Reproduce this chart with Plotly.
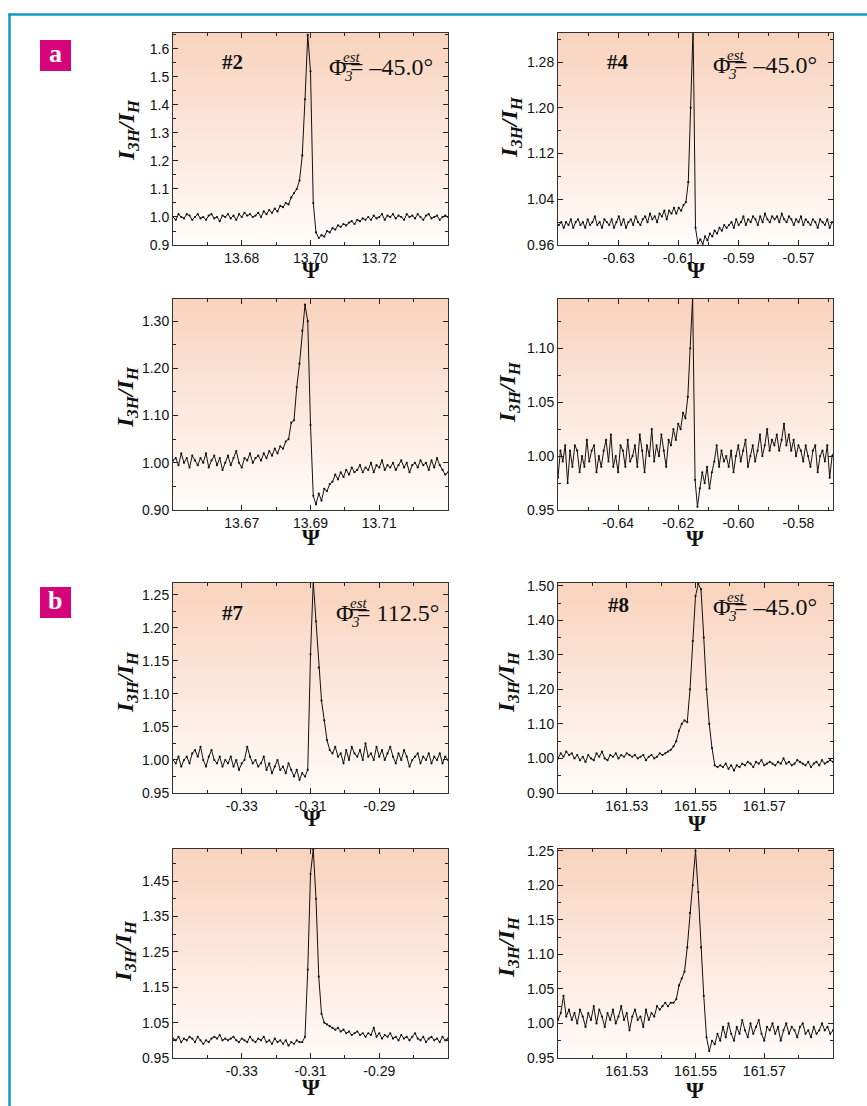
import plotly.graph_objects as go

W, H = 867, 1106

# ---------------- data ----------------
# each scan: start of Psi scan, scan step, measured I3H/IH ratios
scan2a_start, scan2a_step = 13.66, 0.0008
scan2a_ratio = [
    1.00, 0.99, 1.01, 1.00, 0.995, 1.01, 1.005, 0.99, 1.00, 1.01,
    0.995, 1.00, 0.99, 1.005, 1.01, 0.995, 1.00, 0.985, 1.005, 1.00,
    1.01, 0.995, 1.005, 0.99, 1.01, 1.00, 1.015, 1.005, 1.01, 1.00,
    1.005, 1.015, 1.00, 1.02, 1.01, 1.025, 1.015, 1.03, 1.02, 1.04,
    1.035, 1.05, 1.045, 1.07, 1.085, 1.10, 1.13, 1.22, 1.42, 1.65,
    1.52, 1.05, 0.945, 0.925, 0.935, 0.93, 0.95, 0.945, 0.96, 0.955,
    0.97, 0.965, 0.975, 0.97, 0.98, 0.985, 0.975, 0.99, 0.985, 0.995,
    0.99, 1.00, 0.99, 1.005, 0.995, 1.00, 1.01, 0.99, 1.005, 1.00,
    1.01, 0.995, 1.005, 1.00, 0.99, 1.01, 1.00, 1.005, 0.995, 1.01,
    1.00, 0.99, 1.005, 1.01, 0.995, 1.00, 1.005, 0.99, 1.00, 1.005,
    1.00]

scan4a_start, scan4a_step = -0.650, 0.0008
scan4a_ratio = [
    0.995, 1.00, 0.99, 1.00, 0.995, 1.005, 0.99, 1.00, 1.005, 0.995,
    1.00, 0.99, 1.005, 0.995, 1.00, 1.01, 0.995, 1.00, 0.99, 1.005,
    1.00, 0.995, 1.005, 0.99, 1.00, 1.01, 0.995, 1.005, 0.99, 1.00,
    1.005, 0.995, 1.01, 1.00, 0.995, 1.005, 1.01, 1.00, 1.015, 1.005,
    1.01, 1.00, 1.015, 1.01, 1.02, 1.005, 1.02, 1.015, 1.025, 1.015,
    1.025, 1.02, 1.03, 1.035, 1.07, 1.20, 1.34, 0.99, 0.963, 0.97,
    0.962, 0.975, 0.968, 0.98, 0.975, 0.985, 0.98, 0.99, 0.985, 0.995,
    0.99, 0.995, 1.00, 0.99, 1.005, 0.995, 1.00, 1.01, 0.995, 1.005,
    1.00, 1.01, 1.005, 0.995, 1.01, 1.00, 1.015, 1.005, 1.00, 1.01,
    1.005, 1.01, 1.00, 1.015, 1.005, 1.00, 1.01, 1.005, 0.995, 1.005,
    1.00, 1.01, 0.995, 1.005, 1.00, 0.995, 1.005, 1.00, 0.99, 1.005,
    1.00, 0.995, 1.005, 0.99, 1.00, 1.00]

scan2b_start, scan2b_step = 13.65, 0.0008
scan2b_ratio = [
    1.005, 1.01, 0.995, 1.02, 1.00, 1.01, 0.99, 1.015, 1.005, 0.995,
    1.01, 1.00, 1.02, 0.99, 1.005, 1.015, 0.995, 1.01, 0.985, 1.00,
    1.015, 0.995, 1.01, 1.025, 1.00, 0.99, 1.01, 1.005, 1.02, 1.00,
    1.01, 1.015, 1.005, 1.02, 1.01, 1.025, 1.015, 1.03, 1.02, 1.035,
    1.03, 1.045, 1.05, 1.085, 1.09, 1.16, 1.21, 1.28, 1.335, 1.30,
    1.08, 0.93, 0.912, 0.935, 0.92, 0.945, 0.94, 0.955, 0.96, 0.975,
    0.965, 0.98, 0.97, 0.985, 0.975, 0.99, 0.98, 0.985, 0.995, 0.98,
    0.99, 0.985, 1.00, 0.98, 0.995, 0.99, 1.005, 0.985, 0.995, 0.99,
    1.00, 0.985, 0.995, 1.005, 0.99, 1.00, 0.98, 0.995, 1.00, 0.99,
    1.005, 0.995, 1.00, 0.985, 1.005, 0.99, 1.01, 0.995, 0.985, 0.975,
    0.98]

scan4b_start, scan4b_step = -0.660, 0.0008
scan4b_ratio = [
    0.98, 1.005, 0.995, 1.01, 0.975, 1.005, 0.99, 1.01, 1.005, 0.985,
    1.00, 0.99, 1.015, 0.995, 1.005, 1.01, 0.985, 1.00, 0.99, 1.005,
    1.015, 0.995, 1.02, 0.99, 1.00, 0.985, 1.01, 1.005, 0.99, 1.015,
    0.995, 1.00, 1.01, 0.99, 1.02, 1.005, 0.985, 1.01, 1.00, 1.025,
    0.995, 1.01, 1.00, 1.02, 1.005, 0.99, 1.015, 1.01, 1.025, 1.015,
    1.03, 1.025, 1.04, 1.035, 1.055, 1.10, 1.148, 0.978, 0.953, 0.97,
    0.985, 0.975, 0.99, 0.97, 0.985, 0.995, 1.01, 0.99, 1.005, 0.995,
    1.00, 0.99, 1.005, 0.985, 1.00, 1.01, 0.995, 1.005, 1.015, 0.99,
    1.00, 1.01, 0.995, 1.005, 1.02, 1.00, 1.01, 1.025, 1.005, 1.015,
    1.01, 1.02, 1.005, 1.015, 1.03, 1.01, 1.02, 1.005, 1.015, 1.00,
    1.01, 1.005, 0.995, 1.01, 1.00, 0.99, 1.005, 1.01, 0.985, 1.00,
    1.005, 0.995, 1.01, 0.98, 1.00, 1.005]

scan7a_start, scan7a_step = -0.350, 0.0008
scan7a_ratio = [
    1.00, 0.995, 1.005, 0.99, 1.00, 1.005, 0.995, 1.01, 1.015, 1.005,
    1.02, 1.00, 0.99, 1.005, 1.015, 1.00, 0.995, 1.005, 0.99, 1.00,
    0.995, 1.005, 0.99, 1.00, 0.985, 0.995, 1.00, 1.02, 1.005, 0.995,
    1.00, 0.99, 0.995, 1.005, 0.985, 0.995, 0.98, 0.99, 1.00, 0.985,
    0.99, 0.98, 0.995, 0.985, 0.975, 0.985, 0.97, 0.98, 0.975, 0.985,
    1.16, 1.27, 1.21, 1.14, 1.09, 1.06, 1.03, 1.015, 1.01, 1.02,
    1.005, 1.01, 0.995, 1.015, 1.00, 1.02, 1.01, 1.005, 1.015, 1.00,
    1.025, 1.005, 1.01, 1.00, 1.02, 1.005, 1.015, 1.00, 1.01, 1.02,
    1.005, 0.995, 1.01, 1.00, 1.015, 1.005, 0.99, 1.00, 1.005, 1.01,
    0.995, 1.005, 1.00, 1.01, 0.995, 1.005, 1.00, 1.01, 0.995, 1.005,
    1.00]

scan8a_start, scan8a_step = 161.51, 0.0008
scan8a_ratio = [
    1.00, 1.015, 1.005, 1.02, 1.01, 1.015, 1.00, 1.01, 0.995, 1.005,
    0.99, 1.01, 1.00, 0.995, 1.015, 1.005, 1.02, 1.00, 0.995, 1.01,
    1.005, 1.015, 1.00, 1.01, 1.005, 1.015, 1.01, 1.005, 1.01, 1.00,
    1.005, 1.01, 0.995, 1.005, 1.01, 1.00, 1.005, 1.015, 1.01, 1.015,
    1.02, 1.025, 1.035, 1.05, 1.08, 1.10, 1.11, 1.105, 1.20, 1.34,
    1.47, 1.505, 1.49, 1.35, 1.20, 1.10, 1.03, 0.98, 0.975, 0.98,
    0.975, 0.985, 0.97, 0.98, 0.965, 0.98, 0.975, 0.985, 0.98, 0.99,
    0.985, 0.975, 0.99, 0.985, 0.995, 0.98, 0.985, 0.99, 0.985, 0.98,
    0.99, 0.985, 1.00, 0.985, 0.99, 0.98, 0.985, 0.995, 0.99, 0.985,
    0.98, 0.99, 0.975, 0.985, 0.99, 0.98, 0.995, 0.985, 0.99, 0.995,
    0.99]

scan7b_start, scan7b_step = -0.350, 0.0008
scan7b_ratio = [
    1.005, 1.00, 1.01, 0.995, 1.005, 1.00, 1.01, 1.005, 0.995, 1.01,
    1.00, 0.99, 1.00, 0.995, 1.005, 1.01, 1.005, 1.015, 1.00, 1.005,
    1.00, 1.005, 1.01, 1.00, 0.995, 1.005, 1.00, 0.995, 1.01, 1.00,
    0.995, 1.005, 1.00, 1.01, 0.995, 1.00, 0.99, 1.005, 0.995, 1.00,
    0.99, 1.00, 0.985, 0.995, 0.99, 1.00, 0.995, 0.995, 1.01, 1.20,
    1.47, 1.54, 1.40, 1.18, 1.075, 1.05, 1.045, 1.04, 1.035, 1.03,
    1.035, 1.025, 1.03, 1.02, 1.025, 1.015, 1.02, 1.025, 1.015, 1.02,
    1.01, 1.02, 1.015, 1.035, 1.01, 1.02, 1.005, 1.015, 1.01, 1.02,
    1.005, 1.01, 1.00, 1.015, 1.005, 1.01, 1.00, 1.01, 1.02, 1.005,
    1.00, 1.01, 0.995, 1.005, 1.01, 1.00, 1.005, 0.995, 1.01, 1.00,
    1.005]

scan8b_start, scan8b_step = 161.51, 0.0008
scan8b_ratio = [
    1.005, 1.015, 1.04, 1.01, 1.02, 1.005, 1.015, 1.00, 1.02, 1.01,
    0.995, 1.015, 1.005, 1.025, 1.00, 1.02, 1.01, 0.995, 1.015, 1.005,
    1.02, 1.00, 1.01, 1.025, 1.005, 1.015, 0.99, 1.01, 1.02, 1.005,
    1.01, 0.995, 1.02, 1.005, 1.015, 1.01, 1.025, 1.02, 1.025, 1.03,
    1.025, 1.03, 1.03, 1.035, 1.055, 1.065, 1.075, 1.11, 1.16, 1.20,
    1.25, 1.19, 1.11, 1.04, 0.98, 0.96, 0.975, 0.97, 0.985, 0.975,
    0.995, 0.98, 1.00, 0.985, 0.975, 0.995, 0.985, 1.005, 0.99, 0.98,
    1.00, 0.985, 0.995, 1.005, 0.985, 0.975, 0.995, 0.99, 1.00, 0.985,
    0.995, 0.975, 0.99, 1.00, 0.985, 0.995, 0.99, 0.98, 0.995, 1.00,
    0.985, 0.99, 0.98, 0.995, 0.985, 0.99, 1.00, 0.99, 0.995, 0.985,
    0.99]

# axis ranges
xrange_2a, yrange_2a = [13.66, 13.74], [0.90, 1.657]
xrange_4a, yrange_4a = [-0.6503, -0.5585], [0.96, 1.331]
xrange_2b, yrange_2b = [13.65, 13.73], [0.90, 1.347]
xrange_4b, yrange_4b = [-0.66, -0.5685], [0.95, 1.1457]
xrange_7a, yrange_7a = [-0.35, -0.27], [0.95, 1.268]
xrange_8a, yrange_8a = [161.51, 161.59], [0.90, 1.508]
xrange_7b, yrange_7b = [-0.35, -0.27], [0.95, 1.541]
xrange_8b, yrange_8b = [161.51, 161.59], [0.95, 1.2525]

# tick labels
xt_2a = ["13.68", "13.70", "13.72"]
xt_4a = ["-0.63", "-0.61", "-0.59", "-0.57"]
xt_2b = ["13.67", "13.69", "13.71"]
xt_4b = ["-0.64", "-0.62", "-0.60", "-0.58"]
xt_7 = ["-0.33", "-0.31", "-0.29"]
xt_8 = ["161.53", "161.55", "161.57"]
yt_2a = ["0.9", "1.0", "1.1", "1.2", "1.3", "1.4", "1.5", "1.6"]
yt_4a = ["0.96", "1.04", "1.12", "1.20", "1.28"]
yt_2b = ["0.90", "1.00", "1.10", "1.20", "1.30"]
yt_4b = ["0.95", "1.00", "1.05", "1.10"]
yt_7a = ["0.95", "1.00", "1.05", "1.10", "1.15", "1.20", "1.25"]
yt_8a = ["0.90", "1.00", "1.10", "1.20", "1.30", "1.40", "1.50"]
yt_7b = ["0.95", "1.05", "1.15", "1.25", "1.35", "1.45"]
yt_8b = ["0.95", "1.00", "1.05", "1.10", "1.15", "1.20", "1.25"]

# reflection labels and phase estimates
refl_labels = ["#2", "#4", "#7", "#8"]
phase_texts = ["\u201345.0\u00b0", "\u201345.0\u00b0", "112.5\u00b0", "\u201345.0\u00b0"]

# ---------------- layout / styling ----------------
SERIF = "Liberation Serif, Times New Roman, serif"
SANS = "Liberation Sans, Arial, sans-serif"
INK = "#111111"
bg_scale = [[0.0, "#fffcfa"], [0.45, "#fde9de"], [1.0, "#f8d3bd"]]

col_px = [(173, 448), (558, 833)]
row_px = [(33, 245), (299, 510), (583, 793), (849, 1058)]

panels = [
    dict(x0=scan2a_start, dx=scan2a_step, y=scan2a_ratio, xr=xrange_2a, yr=yrange_2a,
         xt=xt_2a, xm=0.01, yt=yt_2a, ym=0.05, r=0, c=0),
    dict(x0=scan4a_start, dx=scan4a_step, y=scan4a_ratio, xr=xrange_4a, yr=yrange_4a,
         xt=xt_4a, xm=0.01, yt=yt_4a, ym=0.04, r=0, c=1),
    dict(x0=scan2b_start, dx=scan2b_step, y=scan2b_ratio, xr=xrange_2b, yr=yrange_2b,
         xt=xt_2b, xm=0.01, yt=yt_2b, ym=0.05, r=1, c=0),
    dict(x0=scan4b_start, dx=scan4b_step, y=scan4b_ratio, xr=xrange_4b, yr=yrange_4b,
         xt=xt_4b, xm=0.01, yt=yt_4b, ym=0.025, r=1, c=1),
    dict(x0=scan7a_start, dx=scan7a_step, y=scan7a_ratio, xr=xrange_7a, yr=yrange_7a,
         xt=xt_7, xm=0.01, yt=yt_7a, ym=0.025, r=2, c=0),
    dict(x0=scan8a_start, dx=scan8a_step, y=scan8a_ratio, xr=xrange_8a, yr=yrange_8a,
         xt=xt_8, xm=0.01, yt=yt_8a, ym=0.05, r=2, c=1),
    dict(x0=scan7b_start, dx=scan7b_step, y=scan7b_ratio, xr=xrange_7b, yr=yrange_7b,
         xt=xt_7, xm=0.01, yt=yt_7b, ym=0.05, r=3, c=0),
    dict(x0=scan8b_start, dx=scan8b_step, y=scan8b_ratio, xr=xrange_8b, yr=yrange_8b,
         xt=xt_8, xm=0.01, yt=yt_8b, ym=0.025, r=3, c=1),
]


def PX(x):
    return x / W


def PY(y):
    return 1 - y / H


fig = go.Figure()
layout_axes = {}
axis_common = dict(showline=True, linecolor="#333", linewidth=1, mirror="ticks",
                   ticks="inside", ticklen=5, tickwidth=1, tickcolor="#222",
                   showgrid=False, zeroline=False, fixedrange=True, automargin=False,
                   tickfont=dict(family=SANS, size=14, color=INK))

for k, p in enumerate(panels):
    n = k + 1
    xa = "x" if n == 1 else f"x{n}"
    ya = "y" if n == 1 else f"y{n}"
    xs = [p["x0"] + p["dx"] * i for i in range(len(p["y"]))]
    xr, yr = p["xr"], p["yr"]
    # gradient background of the plot area
    fig.add_trace(go.Scatter(
        x=[xr[0], xr[1], xr[1], xr[0], xr[0]], y=[yr[0], yr[0], yr[1], yr[1], yr[0]],
        mode="lines", fill="toself", line=dict(width=0, color="rgba(0,0,0,0)"),
        fillgradient=dict(type="vertical", colorscale=bg_scale),
        hoverinfo="skip", showlegend=False, xaxis=xa, yaxis=ya))
    fig.add_trace(go.Scatter(
        x=xs, y=p["y"], mode="lines+markers",
        line=dict(color=INK, width=1), marker=dict(size=2.2, color=INK),
        showlegend=False, xaxis=xa, yaxis=ya))
    cx0, cx1 = col_px[p["c"]]
    ry0, ry1 = row_px[p["r"]]
    xtv = [float(t) for t in p["xt"]]
    ytv = [float(t) for t in p["yt"]]
    layout_axes["xaxis" if n == 1 else f"xaxis{n}"] = dict(
        axis_common, domain=[PX(cx0), PX(cx1)], range=xr, anchor=ya,
        tickmode="array", tickvals=xtv, ticktext=p["xt"],
        minor=dict(ticks="inside", ticklen=3, tickcolor="#222", tickmode="linear",
                   tick0=xtv[0], dtick=p["xm"]))
    layout_axes["yaxis" if n == 1 else f"yaxis{n}"] = dict(
        axis_common, domain=[PY(ry1), PY(ry0)], range=yr, anchor=xa,
        tickmode="array", tickvals=ytv, ticktext=p["yt"],
        minor=dict(ticks="inside", ticklen=3, tickcolor="#222", tickmode="linear",
                   tick0=ytv[0], dtick=p["ym"]))

annotations = []
shapes = []


def ann(text, x, y, size, family=SERIF, xanchor="center", yanchor="middle",
        angle=0, color=INK):
    annotations.append(dict(text=text, x=PX(x), y=PY(y), xref="paper", yref="paper",
                            showarrow=False, textangle=angle, xanchor=xanchor,
                            yanchor=yanchor, font=dict(family=family, size=size,
                                                       color=color)))


# axis titles
ytitle = "<b><i>I<sub>3H</sub>/I<sub>H</sub></i></b>"
ytitle_pos = [(128, 130), (511, 127), (127, 397), (509, 392),
              (127, 682), (508, 682), (125, 951), (508, 947)]
psi_pos = [(310.5, 270), (696, 270), (311, 537), (695, 538),
           (312, 818), (697, 823), (311, 1087), (695, 1090)]
for (x, y) in ytitle_pos:
    ann(ytitle, x, y, 24, angle=-90)
for (x, y) in psi_pos:
    ann("<b>\u03a8</b>", x, y, 23)

# reflection labels
refl_pos = [(233, 62), (618, 62), (233, 613), (618, 605)]
for t, (x, y) in zip(refl_labels, refl_pos):
    ann(f"<b>{t}</b>", x, y, 21)

# phase estimates  Phi_3^est = value
phi_pos = [(327, 67), (711, 65), (334, 613), (711, 607)]
for t, (x, y) in zip(phase_texts, phi_pos):
    ann("\u03a6", x, y, 24, xanchor="left")
    ann("<i><u>est</u></i>", x + 14, y - 10, 15, xanchor="left")
    ann("<i>3</i>", x + 14.5, y + 9, 15, xanchor="left")
    ann("= " + t, x + 21, y, 24, xanchor="left")

# panel letters a / b
for letter, top in (("a", 40), ("b", 587)):
    shapes.append(dict(type="rect", xref="paper", yref="paper",
                       x0=PX(40), x1=PX(71), y0=PY(top + 31), y1=PY(top),
                       fillcolor="#d5047a", line=dict(width=0)))
    ann(f"<b>{letter}</b>", 55.5, top + 13.5, 26, color="white")

# outer frame (teal)
FRAME = "#1898c4"
shapes.append(dict(type="line", xref="paper", yref="paper",
                   x0=PX(9.5), x1=PX(9.5), y0=0, y1=PY(13.5),
                   line=dict(color=FRAME, width=2.5)))
shapes.append(dict(type="line", xref="paper", yref="paper",
                   x0=PX(8.3), x1=1, y0=PY(14.5), y1=PY(14.5),
                   line=dict(color=FRAME, width=2.5)))

fig.update_layout(
    width=W, height=H, margin=dict(l=0, r=0, t=0, b=0, autoexpand=False),
    paper_bgcolor="white", plot_bgcolor="rgba(0,0,0,0)",
    showlegend=False, annotations=annotations, shapes=shapes,
    **layout_axes)

fig.write_html("out.html", config={"displayModeBar": False},
               post_script="document.body.style.margin='0';"
                           "document.body.style.overflow='hidden';")
